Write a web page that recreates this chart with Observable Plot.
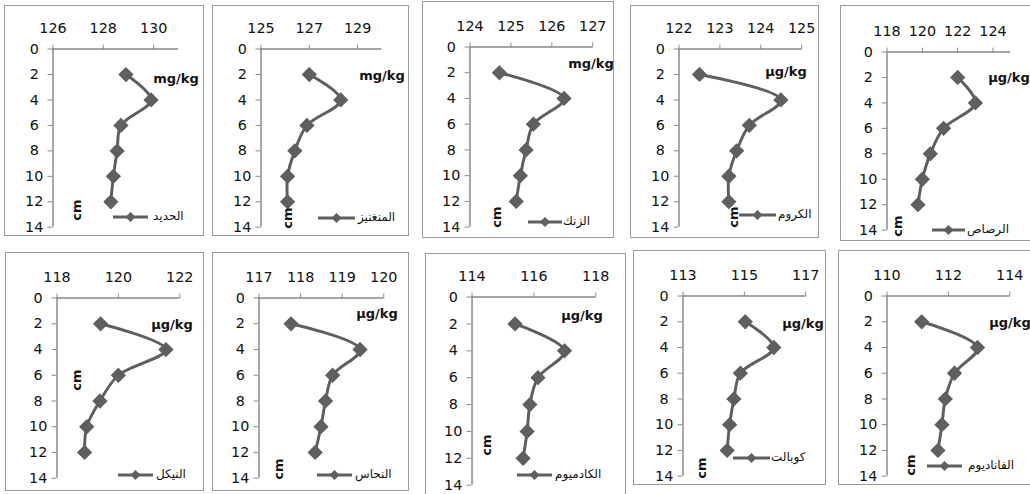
<!DOCTYPE html>
<html><head><meta charset="utf-8">
<script src="https://cdn.jsdelivr.net/npm/d3@7"></script>
<script src="https://cdn.jsdelivr.net/npm/@observablehq/plot@0.6"></script>
<style>
html,body{margin:0;padding:0;background:#fff;overflow:hidden;width:1030px;height:494px}
#root{position:relative;width:1030px;height:494px;font-family:"DejaVu Sans",sans-serif}
.box{position:absolute;border:1px solid #9a9a9a;box-sizing:border-box;overflow:visible;background:#fff}
.box svg{position:absolute;left:0;top:0;overflow:visible}
.unit{position:absolute;font-weight:bold;font-size:13px;transform:translate(-50%,-50%);white-space:nowrap;color:#111}
.cm{position:absolute;font-weight:bold;font-size:13px;transform:translate(-50%,-50%) rotate(-90deg);white-space:nowrap;color:#111}
.legtxt{position:absolute;font-size:12px;white-space:nowrap;color:#111;transform:translateY(-55%)}
.legsvg{position:absolute;overflow:visible}
</style></head>
<body><div id="root"></div>
<script>
// ---- data ----
const depths = [2, 4, 6, 8, 10, 12];
const depthTicks = [0, 2, 4, 6, 8, 10, 12, 14];
const names = ["الحديد", "المنغنيز", "الزنك", "الكروم", "الرصاص", "النيكل", "النحاس", "الكادميوم", "كوبالت", "الفاناديوم"];
const units = ["mg/kg", "mg/kg", "mg/kg", "µg/kg", "µg/kg", "µg/kg", "µg/kg", "µg/kg", "µg/kg", "µg/kg"];
const xMin = [126, 125, 124, 122, 118, 118, 117, 114, 113, 110];
const xMax = [131, 130, 127, 125, 125, 122, 120, 118, 117, 114];
const xTicks = [
  [126, 128, 130], [125, 127, 129], [124, 125, 126, 127], [122, 123, 124, 125], [118, 120, 122, 124],
  [118, 120, 122], [117, 118, 119, 120], [114, 116, 118], [113, 115, 117], [110, 112, 114]
];
const iron      = [128.9, 129.9, 128.7, 128.55, 128.4, 128.3];
const manganese = [127.0, 128.3, 126.9, 126.4, 126.1, 126.1];
const zinc      = [124.72, 126.3, 125.55, 125.37, 125.23, 125.13];
const chromium  = [122.5, 124.49, 123.72, 123.41, 123.22, 123.22];
const lead      = [122.0, 123.0, 121.2, 120.45, 120.0, 119.75];
const nickel    = [119.42, 121.55, 120.0, 119.4, 118.97, 118.9];
const copper    = [117.77, 119.43, 118.77, 118.6, 118.49, 118.35];
const cadmium   = [115.39, 116.99, 116.13, 115.87, 115.78, 115.65];
const cobalt    = [115.03, 115.96, 114.87, 114.66, 114.52, 114.44];
const vanadium  = [111.13, 112.95, 112.2, 111.9, 111.79, 111.66];
const series = [iron, manganese, zinc, chromium, lead, nickel, copper, cadmium, cobalt, vanadium];

// ---- layout (page px) ----
// box: [left, top, right, bottom]; axis: [yAxisX, y0, y14, xEnd]
const boxes = [[4,5,204,236],[212,5,409,236],[422,1,614,238],[630,5,819,238],[840,5,1034,241],
               [5,252,204,491],[212,252,409,491],[425,253,626,500],[633,250,826,485],[838,250,1034,485]];
const axes  = [[53,49,229,180],[261,49,229,383],[470,47,229,594],[679,49,229,803],[887,52,232,1012],
               [57,298,480,181],[259,298,480,385],[472,297,487,597],[683,296,478,807],[887,296,478,1011]];
const unitPos = [[176,78],[382,75],[591,63],[786,71],[1009,77],[172,324],[377,313],[582,315],[803,323],[1010,322]];
const cmPos = [[76,210],[287,218],[496,217],[733,217],[897,226],[76,380],[278,469],[486,445],[701,468],[910,465]];
const legPos = [[113,148,217,153],[318,355,218,358],[528,562,222,563],[739,776,215,778],[932,965,230,967],
                [118,153,475,156],[317,352,475,355],[517,552,475,555],[733,770,458,771],[927,962,466,968]];

const LINE = "#5f5f5f", AXIS = "#8a8a8a";
const root = document.getElementById("root");

series.forEach((vals, i) => {
  const [l, t, r, b] = boxes[i];
  const [ax, y0, y14, xEnd] = axes[i];
  const ox = l + 1, oy = t + 1; // inside border
  const box = document.createElement("div");
  box.className = "box";
  Object.assign(box.style, {left: l + "px", top: t + "px", width: (r - l) + "px", height: (b - t) + "px"});
  root.appendChild(box);

  const rows = depths.map((d, k) => ({d, v: vals[k]}));
  const w = r - l, h = b - t;
  const chart = Plot.plot({
    width: w, height: h,
    marginLeft: ax - ox, marginTop: y0 - oy, marginRight: (ox + w) - xEnd, marginBottom: (oy + h) - y14,
    x: {domain: [xMin[i], xMax[i]]},
    y: {domain: [0, 14], reverse: true},
    style: {fontFamily: '"DejaVu Sans", sans-serif', fontSize: "14.5px", color: "#111", background: "transparent"},
    marks: [
      Plot.ruleY([0], {stroke: AXIS, strokeWidth: 1.5}),
      Plot.ruleX([xMin[i]], {stroke: AXIS, strokeWidth: 1.5}),
      Plot.axisX({anchor: "top", ticks: xTicks[i], tickFormat: d => String(d), tickSize: 5, tickPadding: 11, stroke: AXIS, fill: "#111", label: null, fontSize: 14.5}),
      Plot.axisY({anchor: "left", ticks: depthTicks, tickFormat: d => String(d), tickSize: 5, tickPadding: 14, textAnchor: "middle", stroke: AXIS, fill: "#111", label: null, fontSize: 14.5}),
      Plot.line(rows, {x: "v", y: "d", stroke: LINE, strokeWidth: 3, curve: "catmull-rom"}),
      Plot.dot(rows, {x: "v", y: "d", symbol: "diamond2", r: 6, fill: LINE, stroke: LINE})
    ]
  });
  box.appendChild(chart);

  const u = document.createElement("div");
  u.className = "unit"; u.textContent = units[i];
  u.style.left = (unitPos[i][0] - ox) + "px"; u.style.top = (unitPos[i][1] - oy) + "px";
  box.appendChild(u);

  const c = document.createElement("div");
  c.className = "cm"; c.textContent = "cm";
  c.style.left = (cmPos[i][0] - ox) + "px"; c.style.top = (cmPos[i][1] - oy) + "px";
  box.appendChild(c);

  const [x1, x2, ly, tx] = legPos[i];
  const svgNS = "http://www.w3.org/2000/svg";
  const ls = document.createElementNS(svgNS, "svg");
  ls.setAttribute("class", "legsvg");
  ls.setAttribute("width", x2 - x1); ls.setAttribute("height", 12);
  ls.style.left = (x1 - ox) + "px"; ls.style.top = (ly - 6 - oy) + "px";
  const m = (x2 - x1) / 2;
  ls.innerHTML = `<line x1="0" y1="6" x2="${x2 - x1}" y2="6" stroke="${LINE}" stroke-width="3"/>` +
    `<polygon points="${m},1 ${m + 5},6 ${m},11 ${m - 5},6" fill="${LINE}"/>`;
  box.appendChild(ls);

  const lt = document.createElement("div");
  lt.className = "legtxt"; lt.textContent = names[i];
  lt.style.left = (tx - ox) + "px"; lt.style.top = (ly - oy) + "px";
  box.appendChild(lt);
});
</script>
</body></html>
